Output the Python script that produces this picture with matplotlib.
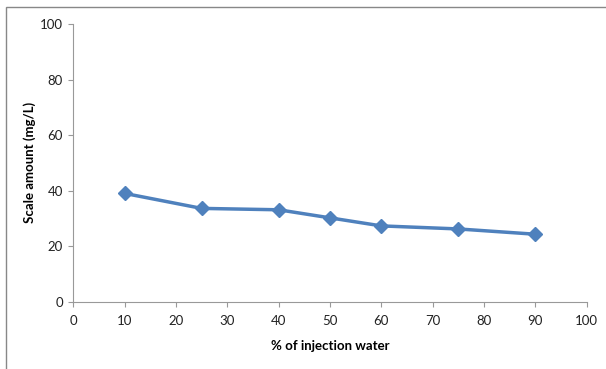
import matplotlib as mpl
mpl.use('Agg')
import matplotlib.pyplot as plt
from matplotlib.patches import Rectangle

injection_pct = [10, 25, 40, 50, 60, 75, 90]
scale_amount = [39.0, 33.6, 33.1, 30.2, 27.3, 26.2, 24.3]

x_ticks = list(range(0, 101, 10))
y_ticks = list(range(0, 101, 20))

plt.rcParams['font.family'] = ['Lato', 'DejaVu Sans']

W, H = 606, 369
left, right, top, bottom = 73.3, 586.5, 24, 301.7

fig = plt.figure(figsize=(W / 100, H / 100), dpi=100)
ax = fig.add_axes([left / W, 1 - bottom / H, (right - left) / W, (bottom - top) / H])

ax.plot(injection_pct, scale_amount, color='#4F81BD', linewidth=2.5,
        marker='D', markersize=7, markerfacecolor='#4F81BD',
        markeredgecolor='#4F81BD', clip_on=False)

ax.set_xlim(0, 100)
ax.set_ylim(0, 100)
ax.set_xticks(x_ticks)
ax.set_yticks(y_ticks)
ax.tick_params(axis='both', colors='#999999', labelcolor='#222222',
               labelsize=9.5, length=3.5, width=0.8, direction='out')
ax.tick_params(axis='x', pad=6)
ax.tick_params(axis='y', pad=4)

for side in ['top', 'right']:
    ax.spines[side].set_visible(False)
for side in ['left', 'bottom']:
    ax.spines[side].set_color('#999999')
    ax.spines[side].set_linewidth(0.8)

ax.set_xlabel('% of injection water', fontsize=9.5, fontweight='bold')
ax.set_ylabel('Scale amount (mg/L)', fontsize=9.5, fontweight='bold')
ax.xaxis.set_label_coords(0.5, (bottom - 340) / (bottom - top), transform=ax.transAxes)
ax.yaxis.set_label_coords((36 - left) / (right - left), 0.5, transform=ax.transAxes)

# outer chart frame (left and top edges fall inside the canvas)
fig.patches.append(Rectangle((6 / W, -0.05), 1.0, 1 - 6.5 / H + 0.05,
                             transform=fig.transFigure, fill=False,
                             edgecolor='#888888', linewidth=1.0))

fig.savefig('out.png', dpi=100)
